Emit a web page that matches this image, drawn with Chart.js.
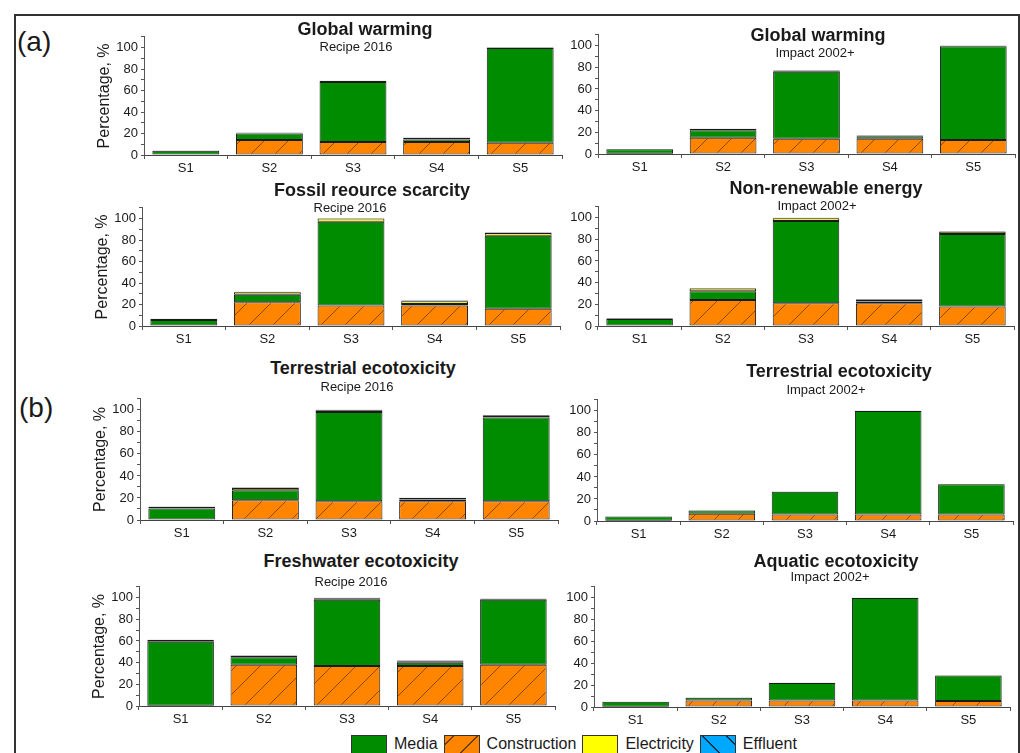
<!DOCTYPE html>
<html>
<head>
<meta charset="utf-8">
<script src="https://cdn.jsdelivr.net/npm/chart.js@4/dist/chart.umd.min.js"></script>
<style>
  body { margin: 0; width: 1020px; height: 753px; overflow: hidden; background: #fff; position: relative; font-family: "Liberation Sans", Arial, sans-serif; color: #1a1a1a; }
  #frame { position: absolute; left: 14px; top: 14px; width: 1002px; height: 760px; border: 2px solid #333; }
  canvas { position: absolute; }
  .title { position: absolute; transform: translate(-50%, -50%); font-weight: bold; font-size: 18px; white-space: nowrap; }
  .sub { position: absolute; transform: translate(-50%, -50%); font-size: 13px; white-space: nowrap; }
  .tag { position: absolute; font-size: 28px; }
  .legend { position: absolute; top: 735px; left: 351px; display: flex; align-items: flex-start; font-size: 16px; }
  .legend .box { width: 34px; height: 22px; border: 1px solid #333; margin-right: 7px; }
  .legend span { margin-right: 6px; line-height: 18px; }
</style>
</head>
<body>
<div id="frame"></div>
<div class="tag" style="left:17px;top:26px">(a)</div>
<div class="tag" style="left:19px;top:392px">(b)</div>

<div class="legend">
  <div class="box" style="background:#008c00"></div><span>Media</span>
  <div class="box" style="background:repeating-linear-gradient(-45deg,#ff8400 0 16px,#6a3a00 16px 17px)"></div><span>Construction</span>
  <div class="box" style="background:#ffff00"></div><span>Electricity</span>
  <div class="box" style="background:repeating-linear-gradient(45deg,#00a8ff 0 16px,#003050 16px 17px)"></div><span>Effluent</span>
</div>

<script>
const categories = ["S1", "S2", "S3", "S4", "S5"];
const tickStep = 10;
const tickLabelStep = 20;
const yMax = 110;

// Global warming - Recipe 2016
const gwRecipeConstruction = [0.5, 14, 12, 12, 11.5];
const gwRecipeMedia = [3.5, 6, 56, 2.5, 88];
const gwRecipeElectricity = [0.3, 0.7, 0.8, 1.5, 0.5];
const gwRecipeEffluent = [0, 0.2, 0.3, 0.2, 0.2];

// Global warming - Impact 2002+
const gwImpactConstruction = [0.3, 15, 14, 14, 13];
const gwImpactMedia = [4, 7, 62, 2.3, 86.5];
const gwImpactElectricity = [0.2, 1.2, 1, 0.7, 0.5];
const gwImpactEffluent = [0, 0.2, 0.3, 0.2, 0.2];

// Fossil resource scarcity - Recipe 2016
const fossilConstruction = [0.5, 22, 19, 19, 16];
const fossilMedia = [5, 7, 78, 1.5, 68];
const fossilElectricity = [1, 2.5, 3, 2.5, 2.5];
const fossilEffluent = [0.2, 0.3, 0.3, 0.8, 0.5];

// Non-renewable energy - Impact 2002+
const nreConstruction = [0.5, 24, 21, 21, 18];
const nreMedia = [6, 8, 76, 1.5, 67];
const nreElectricity = [0.5, 2.5, 2.5, 2, 2];
const nreEffluent = [0.3, 0.5, 0.5, 0.5, 0.5];

// Terrestrial ecotoxicity - Recipe 2016
const terRecipeConstruction = [0.5, 18, 17, 17, 17];
const terRecipeMedia = [10, 9, 81, 1.5, 76];
const terRecipeElectricity = [1.5, 2, 1.5, 1.5, 1.5];
const terRecipeEffluent = [0.3, 0.5, 0.5, 0.3, 0.5];

// Terrestrial ecotoxicity - Impact 2002+
const terImpactConstruction = [0.2, 6.5, 6, 6, 6];
const terImpactMedia = [3.8, 3, 20.5, 93.8, 27.3];
const terImpactElectricity = [0, 0.3, 0.2, 0.1, 0.1];
const terImpactEffluent = [0, 0, 0.1, 0.1, 0.1];

// Freshwater ecotoxicity - Recipe 2016
const fwConstruction = [0.3, 38, 37, 37, 38];
const fwMedia = [59, 7, 61, 3, 60];
const fwElectricity = [1.5, 1.2, 1, 1.3, 1];
const fwEffluent = [0.3, 0.5, 1, 0.7, 0.3];

// Aquatic ecotoxicity - Impact 2002+
const aqConstruction = [0.3, 6, 6, 6, 5.5];
const aqMedia = [4.5, 2.5, 16, 93.8, 23.3];
const aqElectricity = [0, 0.3, 0.1, 0.1, 0.1];
const aqEffluent = [0, 0, 0, 0.1, 0.1];

const colorMedia = "#008c00";
const colorConstruction = "#ff8400";
const colorElectricity = "#ffff00";
const colorEffluent = "#00a8ff";

function hatch(bg, forward) {
  const c = document.createElement("canvas");
  c.width = 24;
  c.height = 24;
  const g = c.getContext("2d");
  g.fillStyle = bg;
  g.fillRect(0, 0, 24, 24);
  g.strokeStyle = "rgba(40,20,0,0.6)";
  g.lineWidth = 0.9;
  g.beginPath();
  if (forward) {
    g.moveTo(-2, 26); g.lineTo(26, -2);
  } else {
    g.moveTo(-2, -2); g.lineTo(26, 26);
  }
  g.stroke();
  return g.createPattern(c, "repeat");
}

const constructionFill = hatch(colorConstruction, true);
const effluentFill = hatch(colorEffluent, false);

// panel layout: plot area left/right, top of axis, pixel of y = 0
const panels = [
  { title: "Global warming", sub: "Recipe 2016", con: gwRecipeConstruction, med: gwRecipeMedia, ele: gwRecipeElectricity, eff: gwRecipeEffluent,
    L: 144, R: 562, T: 36, B: 155, yTitle: true, tx: 365, ty: 29, sx: 356, sy: 46 },
  { title: "Global warming", sub: "Impact 2002+", con: gwImpactConstruction, med: gwImpactMedia, ele: gwImpactElectricity, eff: gwImpactEffluent,
    L: 598, R: 1015, T: 34, B: 154, yTitle: false, tx: 818, ty: 35, sx: 815, sy: 52 },
  { title: "Fossil reource scarcity", sub: "Recipe 2016", con: fossilConstruction, med: fossilMedia, ele: fossilElectricity, eff: fossilEffluent,
    L: 142, R: 560, T: 207, B: 326, yTitle: true, tx: 372, ty: 190, sx: 350, sy: 207 },
  { title: "Non-renewable energy", sub: "Impact 2002+", con: nreConstruction, med: nreMedia, ele: nreElectricity, eff: nreEffluent,
    L: 598, R: 1014, T: 206, B: 326, yTitle: false, tx: 826, ty: 188, sx: 817, sy: 205 },
  { title: "Terrestrial ecotoxicity", sub: "Recipe 2016", con: terRecipeConstruction, med: terRecipeMedia, ele: terRecipeElectricity, eff: terRecipeEffluent,
    L: 140, R: 558, T: 398, B: 520, yTitle: true, tx: 363, ty: 368, sx: 357, sy: 386 },
  { title: "Terrestrial ecotoxicity", sub: "Impact 2002+", con: terImpactConstruction, med: terImpactMedia, ele: terImpactElectricity, eff: terImpactEffluent,
    L: 597, R: 1013, T: 399, B: 521, yTitle: false, tx: 839, ty: 371, sx: 826, sy: 389 },
  { title: "Freshwater ecotoxicity", sub: "Recipe 2016", con: fwConstruction, med: fwMedia, ele: fwElectricity, eff: fwEffluent,
    L: 139, R: 555, T: 586, B: 706, yTitle: true, tx: 361, ty: 561, sx: 351, sy: 581 },
  { title: "Aquatic ecotoxicity", sub: "Impact 2002+", con: aqConstruction, med: aqMedia, ele: aqElectricity, eff: aqEffluent,
    L: 594, R: 1010, T: 586, B: 707, yTitle: false, tx: 836, ty: 561, sx: 830, sy: 576 },
];

const PAD_TOP = 10;
const PAD_RIGHT = 6;
const X_AXIS_H = 22;

function addText(cls, text, x, y) {
  const d = document.createElement("div");
  d.className = cls;
  d.textContent = text;
  d.style.left = x + "px";
  d.style.top = y + "px";
  document.body.appendChild(d);
}

panels.forEach((p) => {
  const yAxisW = p.yTitle ? 53 : 40;
  const canvas = document.createElement("canvas");
  const w = yAxisW + (p.R - p.L) + PAD_RIGHT;
  const h = PAD_TOP + (p.B - p.T) + X_AXIS_H;
  canvas.width = w;
  canvas.height = h;
  canvas.style.left = p.L - yAxisW + "px";
  canvas.style.top = p.T - PAD_TOP + "px";
  document.body.appendChild(canvas);

  const barStyle = {
    borderColor: "#1a1a1a",
    borderWidth: 1,
    borderSkipped: false,
    barPercentage: 0.8,
    categoryPercentage: 1,
  };

  new Chart(canvas.getContext("2d"), {
    type: "bar",
    data: {
      labels: categories,
      datasets: [
        { label: "Construction", data: p.con, backgroundColor: constructionFill, ...barStyle },
        { label: "Media", data: p.med, backgroundColor: colorMedia, ...barStyle },
        { label: "Electricity", data: p.ele, backgroundColor: colorElectricity, ...barStyle },
        { label: "Effluent", data: p.eff, backgroundColor: effluentFill, ...barStyle },
      ],
    },
    options: {
      responsive: false,
      devicePixelRatio: 1,
      animation: false,
      layout: { padding: { top: PAD_TOP, right: PAD_RIGHT, left: 0, bottom: 0 } },
      plugins: { legend: { display: false }, tooltip: { enabled: false } },
      scales: {
        x: {
          stacked: true,
          grid: { drawOnChartArea: false, tickLength: 4, color: "#555" },
          border: { color: "#444", width: 1 },
          ticks: { color: "#1a1a1a", font: { family: "Liberation Sans", size: 13 }, padding: 2 },
          afterFit: (s) => { s.height = X_AXIS_H; },
        },
        y: {
          stacked: true,
          min: 0,
          max: yMax,
          grid: { drawOnChartArea: false, tickLength: 3, color: "#555" },
          border: { color: "#555", width: 1 },
          ticks: {
            stepSize: tickStep,
            autoSkip: false,
            includeBounds: false,
            padding: 3,
            color: "#1a1a1a",
            font: { family: "Liberation Sans", size: 13 },
            callback: (v) => (v % tickLabelStep === 0 && v <= 100 ? v : ""),
          },
          title: {
            display: p.yTitle,
            text: "Percentage, %",
            color: "#1a1a1a",
            font: { family: "Liberation Sans", size: 16 },
            padding: { top: 4, bottom: 0 },
          },
          afterFit: (s) => { s.width = yAxisW; },
        },
      },
    },
  });

  addText("title", p.title, p.tx, p.ty);
  addText("sub", p.sub, p.sx, p.sy);
});
</script>
</body>
</html>
